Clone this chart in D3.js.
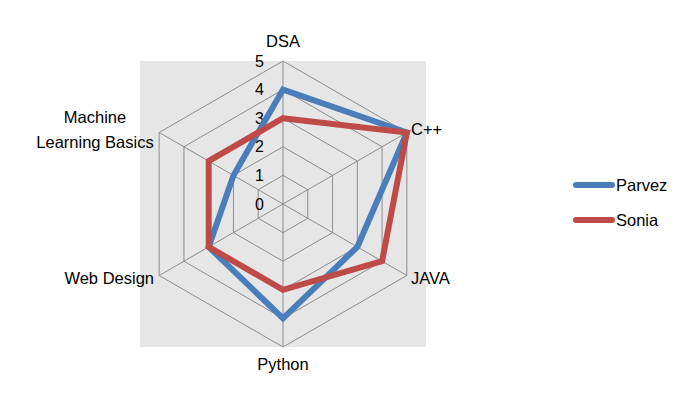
<!DOCTYPE html>
<html><head><meta charset="utf-8">
<script src="https://cdn.jsdelivr.net/npm/d3@7"></script>
<style>body{margin:0;background:#fff;} text{font-family:"Liberation Sans",Arial,sans-serif;fill:#000;}</style>
</head><body>
<svg id="c" width="685" height="395"></svg>
<script>
const categories = ["DSA", "C++", "JAVA", "Python", "Web Design", "Machine Learning Basics"];
const parvez = [4, 5, 3, 4, 3, 2];
const sonia = [3, 5, 4, 3, 3, 3];
const seriesNames = ["Parvez", "Sonia"];
const tickValues = [0, 1, 2, 3, 4, 5];

const svg = d3.select("#c");
const cx = 283, cy = 204, R = 143;
const colors = ["#4A7EBB", "#BE4B48"];
const fs = "16.5px";

svg.append("rect").attr("x", 140).attr("y", 61).attr("width", 286).attr("height", 286).attr("fill", "#e6e6e6");

const r = d3.scaleLinear().domain([0, 5]).range([0, R]);
const ang = d3.scalePoint().domain(categories).range([0, 2 * Math.PI * 5 / 6]);
const pt = (c, v) => [cx + r(v) * Math.sin(ang(c)), cy - r(v) * Math.cos(ang(c))];

const g = svg.append("g");
// grid rings
tickValues.filter(t => t > 0).forEach(t => {
  g.append("path").attr("d", d3.line()(categories.map(c => pt(c, t))) + "Z")
    .attr("fill", "none").attr("stroke", "#8c8c8c").attr("stroke-width", 1);
});
// spokes
categories.forEach(c => {
  const p = pt(c, 5);
  g.append("line").attr("x1", cx).attr("y1", cy).attr("x2", p[0]).attr("y2", p[1])
    .attr("stroke", "#8c8c8c").attr("stroke-width", 1);
});
// tick labels
tickValues.forEach(t => {
  g.append("text").attr("x", cx - 19).attr("y", cy - r(t)).attr("dy", "0.35em")
    .attr("text-anchor", "end").style("font-size", "16px").text(t);
});

// series
[parvez, sonia].forEach((vals, i) => {
  svg.append("path").attr("d", d3.line()(categories.map((c, j) => pt(c, vals[j]))) + "Z")
    .attr("fill", "none").attr("stroke", colors[i]).attr("stroke-width", 6).attr("stroke-linejoin", "miter");
});

// category labels
const labelPos = [
  {x: 283, y: 41, a: "middle"},
  {x: 411, y: 129, a: "start"},
  {x: 411, y: 278, a: "start"},
  {x: 283, y: 364, a: "middle"},
  {x: 154, y: 278, a: "end"},
  {x: 95, y: 117, a: "middle"}
];
categories.forEach((c, i) => {
  const p = labelPos[i];
  const t = svg.append("text").attr("x", p.x).attr("y", p.y).attr("text-anchor", p.a)
    .style("font-size", fs);
  if (c === "Machine Learning Basics") {
    t.append("tspan").attr("x", p.x).attr("dy", "0.35em").text("Machine");
    t.append("tspan").attr("x", p.x).attr("dy", "1.5em").text("Learning Basics");
  } else {
    t.attr("dy", "0.35em").text(c);
  }
});

// legend
seriesNames.forEach((s, i) => {
  const y = 185 + i * 35;
  svg.append("line").attr("x1", 576).attr("x2", 612).attr("y1", y).attr("y2", y)
    .attr("stroke", colors[i]).attr("stroke-width", 6).attr("stroke-linecap", "round");
  svg.append("text").attr("x", 616).attr("y", y).attr("dy", "0.35em").style("font-size", fs).text(s);
});
</script>
</body></html>
